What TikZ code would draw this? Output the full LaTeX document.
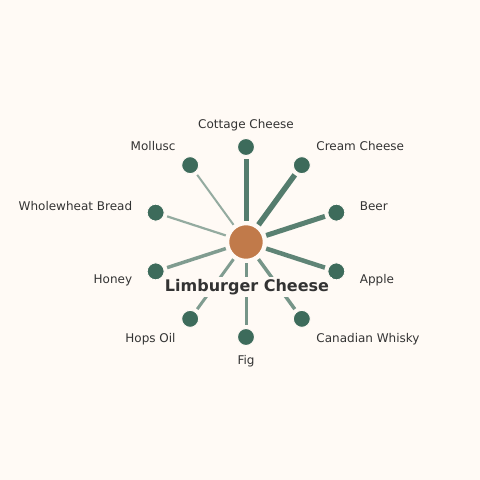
\documentclass[tikz,border=0pt]{standalone}
\usepackage{fontspec}
\setmainfont{DejaVu Sans}
\usetikzlibrary{calc}
\definecolor{bgc}{HTML}{FFFAF5}
\definecolor{leaf}{HTML}{3D6B5B}
\definecolor{hub}{HTML}{C17A4A}
\definecolor{txt}{HTML}{333333}
\begin{document}
\begin{tikzpicture}[x=1pt,y=1pt,
  leafnode/.style={circle,fill=leaf,draw=bgc,line width=1pt,minimum size=17pt,inner sep=0pt},
  hubnode/.style={circle,fill=hub,draw=bgc,line width=1.5pt,minimum size=35pt,inner sep=0pt},
  lbl/.style={font=\fontsize{12}{14}\selectfont,text=txt,inner sep=0pt},
  link/.style={draw=leaf,shorten <=3pt,shorten >=3pt},
]
\fill[bgc] (0,0) rectangle (480,480);
\useasboundingbox (0,0) rectangle (480,480);
\coordinate (o) at (246,238);
\coordinate (ol) at (246,237);
\node[hubnode] (c) at (o) {};
\node[leafnode] (n1) at ($(o)+(90:95)$) {};
\node[leafnode] (n2) at ($(o)+(54:95)$) {};
\node[leafnode] (n3) at ($(o)+(18:95)$) {};
\node[leafnode] (n4) at ($(o)+(-18:95)$) {};
\node[leafnode] (n5) at ($(o)+(-54:95)$) {};
\node[leafnode] (n6) at ($(o)+(-90:95)$) {};
\node[leafnode] (n7) at ($(o)+(-126:95)$) {};
\node[leafnode] (n8) at ($(o)+(-162:95)$) {};
\node[leafnode] (n9) at ($(o)+(162:95)$) {};
\node[leafnode] (n10) at ($(o)+(126:95)$) {};
\draw[link,line width=5pt,draw opacity=0.88] (c) -- (n1);
\draw[link,line width=5.5pt,draw opacity=0.88] (c) -- (n2);
\draw[link,line width=5pt,draw opacity=0.85] (c) -- (n3);
\draw[link,line width=4.5pt,draw opacity=0.82] (c) -- (n4);
\draw[link,line width=3.5pt,draw opacity=0.7] (c) -- (n5);
\draw[link,line width=3pt,draw opacity=0.7] (c) -- (n6);
\draw[link,line width=3pt,draw opacity=0.65] (c) -- (n7);
\draw[link,line width=3.5pt,draw opacity=0.65] (c) -- (n8);
\draw[link,line width=2.2pt,draw opacity=0.55] (c) -- (n9);
\draw[link,line width=2pt,draw opacity=0.55] (c) -- (n10);
\node[lbl] (l1) at ($(ol)+(90:118)$) {Cottage Cheese};
\node[lbl,anchor=west] (l2) at ($(ol)+(54:119.5)$) {Cream Cheese};
\node[lbl,anchor=west] (l3) at ($(ol)+(18:119.5)$) {Beer};
\node[lbl,anchor=west] (l4) at ($(ol)+(-18:119.5)$) {Apple};
\node[lbl,anchor=west] (l5) at ($(ol)+(-54:119.5)$) {Canadian Whisky};
\node[lbl] (l6) at ($(ol)+(-90:118)$) {Fig};
\node[lbl,anchor=east] (l7) at ($(ol)+(-126:119.5)$) {Hops Oil};
\node[lbl,anchor=east] (l8) at ($(ol)+(-162:119.5)$) {Honey};
\node[lbl,anchor=east] (l9) at ($(ol)+(162:119.5)$) {Wholewheat Bread};
\node[lbl,anchor=east] (l10) at ($(ol)+(126:119.5)$) {Mollusc};
\node[fill=bgc,text=txt,font=\fontsize{16}{18}\selectfont\bfseries,inner xsep=3pt,inner ysep=2pt] (t) at (247,193) {Limburger Cheese};
\end{tikzpicture}
\end{document}
